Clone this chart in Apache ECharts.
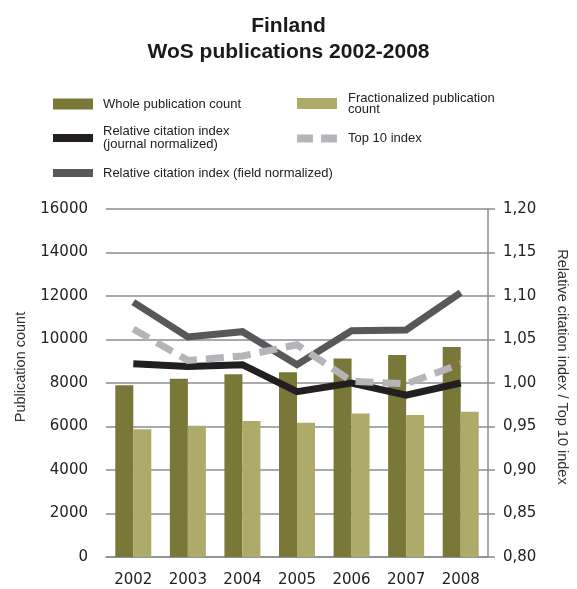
<!DOCTYPE html>
<html>
<head>
<meta charset="utf-8">
<script src="https://cdn.jsdelivr.net/npm/echarts@6/dist/echarts.min.js"></script>
<style>html,body{margin:0;padding:0;background:#fff}#c{width:577px;height:589px}</style>
</head>
<body>
<div id="c"></div>
<script>
const years = ['2002','2003','2004','2005','2006','2007','2008'];
const wholeCount = [7900, 8200, 8400, 8500, 9130, 9290, 9650];
const fractionalCount = [5870, 6040, 6250, 6170, 6600, 6530, 6680];
const rciJournal = [1.022, 1.019, 1.021, 0.990, 1.000, 0.986, 1.000];
const top10Index = [1.062, 1.026, 1.031, 1.044, 1.002, 0.999, 1.022];
const rciField = [1.093, 1.053, 1.059, 1.021, 1.060, 1.061, 1.104];

const C_WHOLE = '#7a7838', C_FRAC = '#adaa6a', C_JOUR = '#231f20', C_TOP = '#b5b4b9', C_FIELD = '#58585a';
const FONT = 'Liberation Sans';
const NUMFONT = 'DejaVu Sans';
const gridColor = '#8a8c8e';

function legendBox(name, left, top, icon, h, color, tstyle) {
  return {
    data: [{ name: name, icon: icon, itemStyle: { color: color, borderWidth: 0 } }],
    left: left, top: top, padding: 0, orient: 'horizontal',
    itemWidth: 40, itemHeight: h, selectedMode: false,
    textStyle: Object.assign({ fontFamily: FONT, fontSize: 13, color: '#222', lineHeight: 14, padding: [0, 0, 0, 5] }, tstyle || {})
  };
}

const chart = echarts.init(document.getElementById('c'), null, { renderer: 'canvas' });
chart.setOption({
  backgroundColor: '#fff',
  animation: false,
  title: {
    text: 'Finland\nWoS publications 2002-2008',
    left: 'center', top: 8,
    textStyle: { fontFamily: FONT, fontSize: 21, fontWeight: 'bold', lineHeight: 26, color: '#1a1a1a' }
  },
  legend: [
    legendBox('Whole publication count', 53, 97, 'rect', 11, C_WHOLE),
    legendBox('Fractionalized publication\ncount', 297, 87, 'rect', 11, C_FRAC, { lineHeight: 11, padding: [11, 0, 0, 6] }),
    legendBox('Relative citation index\n(journal normalized)', 53, 125, 'rect', 8, C_JOUR, { lineHeight: 13 }),
    legendBox('Top 10 index', 297, 131.5, 'path://M0,0H16V8H0Z M24,0H40V8H24Z', 8, C_TOP, { padding: [0, 0, 0, 6] }),
    legendBox('Relative citation index (field normalized)', 53, 166, 'rect', 8, C_FIELD)
  ],
  grid: { left: 106, right: 88, top: 209, bottom: 32, containLabel: false },
  xAxis: {
    type: 'category', data: years,
    axisLine: { show: true, lineStyle: { color: gridColor, width: 1.5 } },
    axisTick: { show: false },
    axisLabel: { fontFamily: NUMFONT, fontSize: 15, color: '#222', margin: 16 }
  },
  yAxis: [
    {
      type: 'value', min: 0, max: 16000, interval: 2000,
      name: 'Publication count', nameLocation: 'middle', nameGap: 78,
      nameTextStyle: { fontFamily: FONT, fontSize: 14.5, color: '#333', padding: [0, 0, 0, 32] },
      axisLine: { show: false }, axisTick: { show: false },
      axisLabel: { fontFamily: NUMFONT, fontSize: 15, color: '#222', margin: 18, formatter: v => String(v) },
      splitLine: { show: true, lineStyle: { color: gridColor, width: 1.5 } }
    },
    {
      type: 'value', min: 0.8, max: 1.2, interval: 0.05, position: 'right',
      name: 'Relative citation index / Top 10 index', nameLocation: 'middle', nameGap: 66, nameRotate: -90,
      nameTextStyle: { fontFamily: FONT, fontSize: 14.5, color: '#333', padding: [0, 32, 0, 0] },
      axisLine: { show: true, lineStyle: { color: gridColor, width: 1.5 } },
      axisTick: { show: true, length: 7, lineStyle: { color: gridColor, width: 1.5 } },
      axisLabel: { fontFamily: NUMFONT, fontSize: 15, color: '#222', margin: 15, formatter: v => v.toFixed(2).replace('.', ',') },
      splitLine: { show: false }
    }
  ],
  series: [
    { name: 'Whole publication count', type: 'bar', data: wholeCount, barWidth: 18, barGap: '0%', itemStyle: { color: C_WHOLE } },
    { name: 'Fractionalized publication\ncount', type: 'bar', data: fractionalCount, barWidth: 18, barGap: '0%', itemStyle: { color: C_FRAC } },
    { name: 'Relative citation index (field normalized)', type: 'line', yAxisIndex: 1, data: rciField, symbol: 'none',
      color: C_FIELD, lineStyle: { color: C_FIELD, width: 7, cap: 'butt', join: 'miter' }, z: 3 },
    { name: 'Relative citation index\n(journal normalized)', type: 'line', yAxisIndex: 1, data: rciJournal, symbol: 'none',
      color: C_JOUR, lineStyle: { color: C_JOUR, width: 7, cap: 'butt', join: 'miter' }, z: 4 },
    { name: 'Top 10 index', type: 'line', yAxisIndex: 1, data: top10Index, symbol: 'none',
      color: C_TOP, lineStyle: { color: C_TOP, width: 7, type: [18, 9], cap: 'butt', join: 'miter' }, z: 5 }
  ]
});
</script>
</body>
</html>
